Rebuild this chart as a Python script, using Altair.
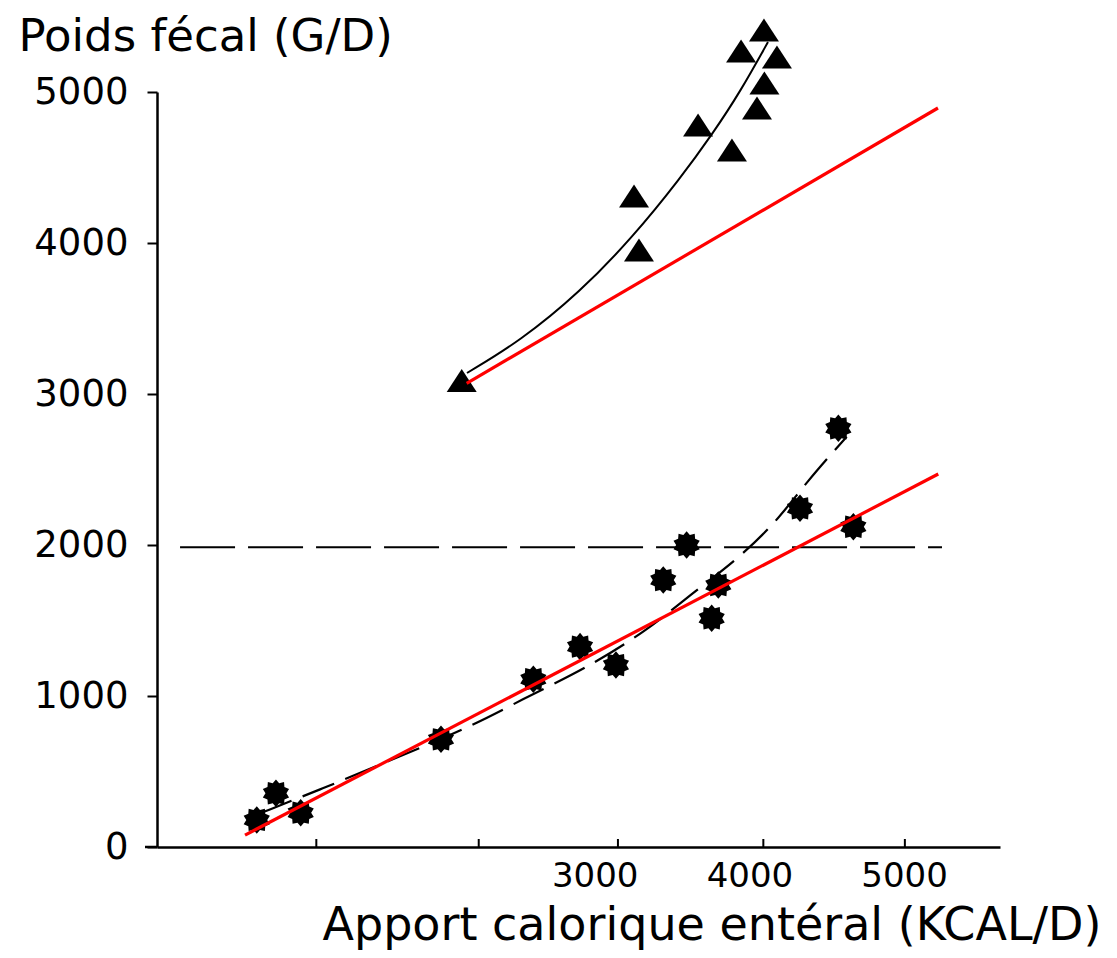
import math
import altair as alt
import pandas as pd

# ---- data ----
tri_x = [2140, 3286, 3254, 3668, 3887, 4049, 4097, 3946, 4178, 4094]
tri_y = [3089, 3954, 4311, 4781, 4616, 4894, 5060, 5272, 5232, 5411]

star_x = [815, 939, 1099, 2006, 2603, 2905, 3137, 3443, 3594, 3756, 3799, 4327, 4575, 4672]
star_y = [179, 356, 227, 713, 1111, 1327, 1205, 1768, 2000, 1515, 1735, 2243, 2773, 2121]

tri_curve_x = [2174, 2517, 2905, 3247, 3551, 3765, 3939, 4120]
tri_curve_y = [3139, 3350, 3675, 4040, 4425, 4728, 4999, 5331]

star_curve_x = [836, 1245, 1633, 2226, 2560, 2926, 3344, 3616, 3918, 4176, 4370, 4629]
star_curve_y = [223, 389, 554, 808, 995, 1172, 1437, 1669, 1901, 2154, 2419, 2717]

red_top_x = [2172, 5219]
red_top_y = [3071, 4894]
red_bot_x = [739, 5221]
red_bot_y = [79, 2470]

thresh_x = [319, 5245]
thresh_y = [1985, 1985]

xtick_marks = [1200, 2250, 3150, 4090, 5005]
x_labels = [3000, 4000, 5000]
y_labels = [0, 1000, 2000, 3000, 4000, 5000]

x_title = "Apport calorique entéral (KCAL/D)"
y_title = "Poids fécal (G/D)"

# ---- layout / style ----
W, H = 843, 755
FONT = "DejaVu Sans"

xs = alt.Scale(domain=[170, 5620], nice=False, zero=False)
ys = alt.Scale(domain=[0, 5000], nice=False, zero=False)

xaxis = alt.Axis(values=x_labels, format="d", ticks=False, grid=False, domain=True,
                 domainColor="black", domainWidth=2.5,
                 labelFont=FONT, labelFontSize=34, labelColor="black",
                 labelPadding=12, labelFlush=False, labelOverlap=False,
                 title=x_title, titleFont=FONT, titleFontSize=46,
                 titleFontWeight="normal", titleColor="black",
                 titleAnchor="start", titleAlign="left", titleBaseline="alphabetic",
                 titleX=165, titleY=92)
yaxis = alt.Axis(values=y_labels, format="d", grid=False, domain=True,
                 domainColor="black", domainWidth=2.5,
                 ticks=True, tickSize=10, tickWidth=2, tickColor="black",
                 labelFont=FONT, labelFontSize=37, labelColor="black",
                 labelPadding=19, labelFlush=False, labelOverlap=False,
                 title=y_title, titleFont=FONT, titleFontSize=45,
                 titleFontWeight="normal", titleColor="black", titleAngle=0,
                 titleAnchor="start", titleAlign="left", titleBaseline="alphabetic",
                 titleX=-139, titleY=-42)


def X(field="x"):
    return alt.X(field, type="quantitative", scale=xs, axis=xaxis)


def Y(field="y"):
    return alt.Y(field, type="quantitative", scale=ys, axis=yaxis)


def star_path(n=10, r_in=0.76):
    pts = []
    for i in range(2 * n):
        r = 1.0 if i % 2 == 0 else r_in
        a = math.pi * i / n - math.pi / 2
        pts.append(f"{r * math.cos(a):.3f},{r * math.sin(a):.3f}")
    return "M" + "L".join(pts) + "Z"


TRI_PATH = "M0,-0.77L1,0.77L-1,0.77Z"

tri_df = pd.DataFrame({"x": tri_x, "y": tri_y})
star_df = pd.DataFrame({"x": star_x, "y": star_y})
tri_curve_df = pd.DataFrame({"x": tri_curve_x, "y": tri_curve_y})
star_curve_df = pd.DataFrame({"x": star_curve_x, "y": star_curve_y})
red_top_df = pd.DataFrame({"x": red_top_x, "y": red_top_y})
red_bot_df = pd.DataFrame({"x": red_bot_x, "y": red_bot_y})
thresh_df = pd.DataFrame({"x": thresh_x, "y": thresh_y})
tick_df = pd.DataFrame({"x": xtick_marks})
one_df = pd.DataFrame({"a": [0]})

thresh = alt.Chart(thresh_df).mark_line(
    color="black", strokeWidth=2, strokeDash=[55, 13]
).encode(x=X(), y=Y())

tri_curve = alt.Chart(tri_curve_df).mark_line(
    color="black", strokeWidth=2, interpolate="basis"
).encode(x=X(), y=Y())

star_curve = alt.Chart(star_curve_df).mark_line(
    color="black", strokeWidth=2.2, interpolate="basis", strokeDash=[34, 12]
).encode(x=X(), y=Y())

tris = alt.Chart(tri_df).mark_point(
    shape=TRI_PATH, size=900, filled=True, color="black", opacity=1
).encode(x=X(), y=Y())

stars = alt.Chart(star_df).mark_point(
    shape=star_path(), size=760, filled=True, color="black", opacity=1
).encode(x=X(), y=Y())

red_top = alt.Chart(red_top_df).mark_line(
    color="#ff0000", strokeWidth=3.2
).encode(x=X(), y=Y())

red_bot = alt.Chart(red_bot_df).mark_line(
    color="#ff0000", strokeWidth=3.2
).encode(x=X(), y=Y())

xticks = alt.Chart(tick_df).mark_rule(color="black", strokeWidth=2).encode(
    x=X(), y=alt.value(H), y2=alt.value(H - 8)
)

x_ext = alt.Chart(one_df).mark_rule(color="black", strokeWidth=2.5).encode(
    x=alt.value(-12), x2=alt.value(0), y=alt.value(H)
)

chart = alt.layer(
    thresh, tri_curve, star_curve, tris, stars, red_top, red_bot, xticks, x_ext
).properties(
    width=W, height=H,
    autosize=alt.AutoSizeParams(type="none"),
    padding={"left": 149, "top": 84, "right": 109, "bottom": 103},
    background="white",
).configure_view(stroke=None)

chart.save("out.html", embed_options={"renderer": "svg", "actions": False})
